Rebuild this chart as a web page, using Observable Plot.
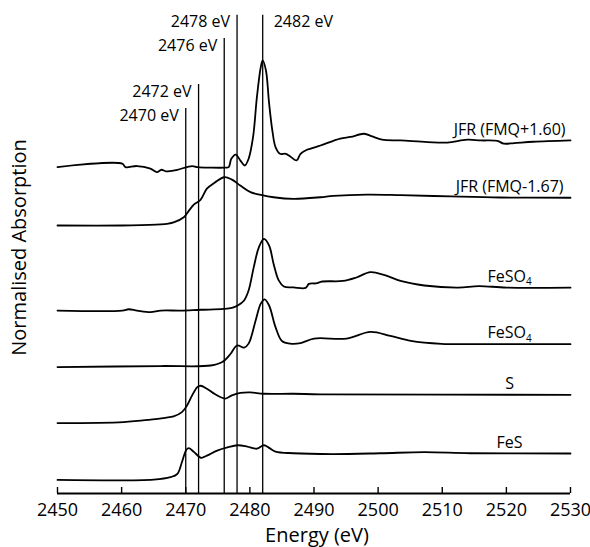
<!DOCTYPE html>
<html>
<head>
<meta charset="utf-8">
<script src="https://cdn.jsdelivr.net/npm/d3@7"></script>
<script src="https://cdn.jsdelivr.net/npm/@observablehq/plot@0.6"></script>
<style>
  html, body { margin: 0; padding: 0; background: #fff; }
</style>
</head>
<body>
<div id="chart"></div>
<script>
// Sulfur K-edge XANES spectra, stacked with a vertical offset per spectrum.
const seriesNames = ["JFR (FMQ+1.60)", "JFR (FMQ-1.67)", "FeSO4", "FeSO4", "S", "FeS"];
const offsets = [12.24, 10.05, 6.86, 4.74, 2.64, 0.51];

// JFR (FMQ+1.60)
const jfrOxE = [2450, 2460.1, 2460.6, 2462.4, 2464.5, 2465.5, 2466.2, 2466.9, 2467.6, 2468.7, 2471.0, 2471.8, 2473.9, 2476.1, 2476.7, 2477.1, 2477.8, 2478.5, 2479.2, 2479.8, 2480.5, 2481.1, 2481.7, 2482.0, 2482.5, 2483.0, 2483.5, 2484.0, 2484.7, 2485.6, 2486.3, 2487.3, 2487.9, 2488.9, 2489.5, 2491.0, 2494.1, 2495.7, 2497.8, 2499.1, 2500.6, 2503.5, 2507.7, 2510.8, 2513.9, 2516.0, 2518.6, 2519.6, 2521.2, 2524.2, 2530];
const jfrOxA = [0, 0.13, 0, 0.04, -0.06, -0.19, -0.10, -0.16, -0.15, -0.10, 0.04, 0, -0.02, -0.02, 0, 0.31, 0.47, 0.25, 0.06, 0.31, 1.13, 2.63, 3.75, 4.0, 3.63, 2.39, 1.38, 0.75, 0.50, 0.50, 0.40, 0.25, 0.50, 0.65, 0.69, 0.81, 1.07, 1.13, 1.25, 1.15, 1.03, 1.00, 0.94, 0.92, 1.03, 1.00, 0.98, 0.88, 0.90, 0.95, 1.00];

// JFR (FMQ-1.67)
const jfrRedE = [2450, 2460.1, 2466.1, 2468.1, 2469.7, 2470.5, 2471.3, 2472.3, 2473.3, 2474.6, 2476.0, 2477.2, 2478.5, 2480.1, 2481.7, 2483.7, 2486.8, 2491.0, 2493.0, 2498.3, 2503.5, 2511.3, 2519.1, 2530];
const jfrRedA = [0, 0, 0.04, 0.12, 0.31, 0.56, 0.79, 0.96, 1.38, 1.62, 1.81, 1.72, 1.50, 1.25, 1.15, 1.06, 1.00, 1.06, 1.11, 1.16, 1.14, 1.09, 1.05, 1.04];

// FeSO4 (upper)
const feso4aE = [2450, 2460.1, 2461.1, 2462.4, 2464.5, 2466.1, 2469.2, 2472.3, 2475.9, 2477.2, 2478.1, 2479.1, 2479.8, 2480.6, 2481.4, 2482.2, 2483.0, 2483.7, 2484.5, 2485.3, 2486.8, 2488.7, 2489.2, 2490.3, 2491.3, 2494.5, 2496.6, 2498.8, 2500.9, 2503.5, 2507.2, 2512.5, 2515.7, 2520.0, 2530];
const feso4aA = [0, 0, 0.05, 0, -0.06, 0, 0, 0.03, 0.06, 0.10, 0.19, 0.38, 0.75, 1.62, 2.37, 2.69, 2.44, 1.75, 1.13, 0.90, 0.87, 0.85, 1.00, 1.02, 1.09, 1.11, 1.24, 1.44, 1.34, 1.11, 0.94, 0.86, 0.92, 0.86, 0.86];

// FeSO4 (lower)
const feso4bE = [2450, 2466.1, 2473.9, 2475.7, 2477.0, 2478.0, 2479.1, 2479.8, 2480.9, 2481.7, 2482.3, 2483.0, 2484.0, 2485.0, 2486.3, 2487.9, 2490.0, 2495.1, 2498.8, 2501.9, 2505.1, 2509.9, 2515.2, 2530];
const feso4bA = [0, 0.04, 0.06, 0.19, 0.50, 0.81, 0.73, 0.88, 1.75, 2.38, 2.54, 2.31, 1.50, 0.98, 0.88, 0.90, 1.07, 1.07, 1.32, 1.17, 0.98, 0.87, 0.86, 0.86];

// S
const sulfurE = [2450, 2460.3, 2464.5, 2466.8, 2468.1, 2469.4, 2470.2, 2471.0, 2471.8, 2472.3, 2473.3, 2474.6, 2476.2, 2477.2, 2478.5, 2480.1, 2482.2, 2486.8, 2491.0, 2530];
const sulfurA = [0, 0.04, 0.13, 0.20, 0.25, 0.41, 0.66, 1.04, 1.35, 1.40, 1.29, 1.08, 0.92, 1.04, 1.13, 1.15, 1.10, 1.10, 1.08, 1.06];

// FeS
const fesE = [2450, 2465.0, 2467.6, 2468.7, 2469.4, 2470.1, 2470.5, 2471.3, 2472.4, 2473.3, 2474.9, 2476.5, 2478.1, 2479.6, 2481.1, 2482.2, 2483.0, 2484.0, 2486.8, 2492.9, 2500.4, 2507.2, 2514.4, 2530];
const fesA = [0, 0.01, 0.10, 0.23, 0.66, 1.13, 1.19, 1.04, 0.83, 0.91, 1.10, 1.22, 1.30, 1.25, 1.17, 1.30, 1.20, 1.06, 1.00, 0.97, 1.00, 1.04, 1.00, 0.99];

// Reference energies marked with vertical lines
const refEnergies = [2470, 2472, 2476, 2478, 2482];
const refTops = [14.44, 15.34, 17.06, 17.93, 17.93];
const refLabels = ["2470 eV", "2472 eV", "2476 eV", "2478 eV", "2482 eV"];

const xTicks = [2450, 2460, 2470, 2480, 2490, 2500, 2510, 2520, 2530];
const labelEnergy = 2520.5;

const energies = [jfrOxE, jfrRedE, feso4aE, feso4bE, sulfurE, fesE];
const absorbances = [jfrOxA, jfrRedA, feso4aA, feso4bA, sulfurA, fesA];

// Long table of stacked spectra
const spectra = energies.flatMap((es, i) =>
  es.map((e, j) => ({id: i, energy: e, value: absorbances[i][j] + offsets[i]}))
);

const seriesLabels = seriesNames.map((name, i) => ({
  name,
  energy: labelEnergy,
  value: absorbances[i][absorbances[i].length - 1] + offsets[i]
}));

const refs = refEnergies.map((e, i) => ({energy: e, top: refTops[i], label: refLabels[i]}));

const chart = Plot.plot({
  width: 590,
  height: 547,
  marginLeft: 57,
  marginRight: 20,
  marginTop: 13,
  marginBottom: 54,
  x: {domain: [2450, 2530], label: null},
  y: {domain: [0, 18], axis: null},
  style: {fontFamily: "'Open Sans', sans-serif", background: "white", color: "black"},
  marks: [
    Plot.ruleX(refs, {x: "energy", y1: 0, y2: "top", stroke: "black", strokeWidth: 1.3}),
    Plot.text(refs.filter(d => d.energy !== 2482), {
      x: "energy", y: "top", text: "label", textAnchor: "end", lineAnchor: "middle",
      dx: -7, dy: 7, fontSize: 16, fill: "black"
    }),
    Plot.text(refs.filter(d => d.energy === 2482), {
      x: "energy", y: "top", text: "label", textAnchor: "start", lineAnchor: "middle",
      dx: 11, dy: 7, fontSize: 16, fill: "black"
    }),
    Plot.line(spectra, {
      x: "energy", y: "value", z: "id", stroke: "black", strokeWidth: 1.8, curve: "catmull-rom"
    }),
    Plot.text(seriesLabels, {
      x: "energy", y: "value", text: "name", textAnchor: "middle", lineAnchor: "middle",
      dy: -11, fontSize: 16, fill: "black"
    }),
    Plot.ruleY([0], {stroke: "black", strokeWidth: 2.2}),
    Plot.ruleX(xTicks, {x: d => d, y1: 0, y2: 0, insetTop: -6, stroke: "black", strokeWidth: 1.4}),
    Plot.axisX({ticks: xTicks, tickFormat: "d", tickSize: 0, tickPadding: 10, fontSize: 18, label: null}),
    Plot.text(["Energy (eV)"], {
      text: d => d, frameAnchor: "bottom", textAnchor: "middle", lineAnchor: "middle",
      dx: 3, dy: 42, fontSize: 20, fill: "black"
    }),
    Plot.text(["Normalised Absorption"], {
      text: d => d, frameAnchor: "left", textAnchor: "middle", lineAnchor: "middle",
      rotate: -90, dx: -38, dy: -6, fontSize: 20, fill: "black"
    })
  ]
});

// Chemical formula subscript
d3.select(chart).selectAll("text").filter(function () {
  return this.textContent === "FeSO4";
}).each(function () {
  const t = d3.select(this);
  t.text("FeSO");
  t.append("tspan").attr("font-size", "0.62em").attr("dy", "0.35em").text("4");
});

document.getElementById("chart").appendChild(chart);
</script>
</body>
</html>
